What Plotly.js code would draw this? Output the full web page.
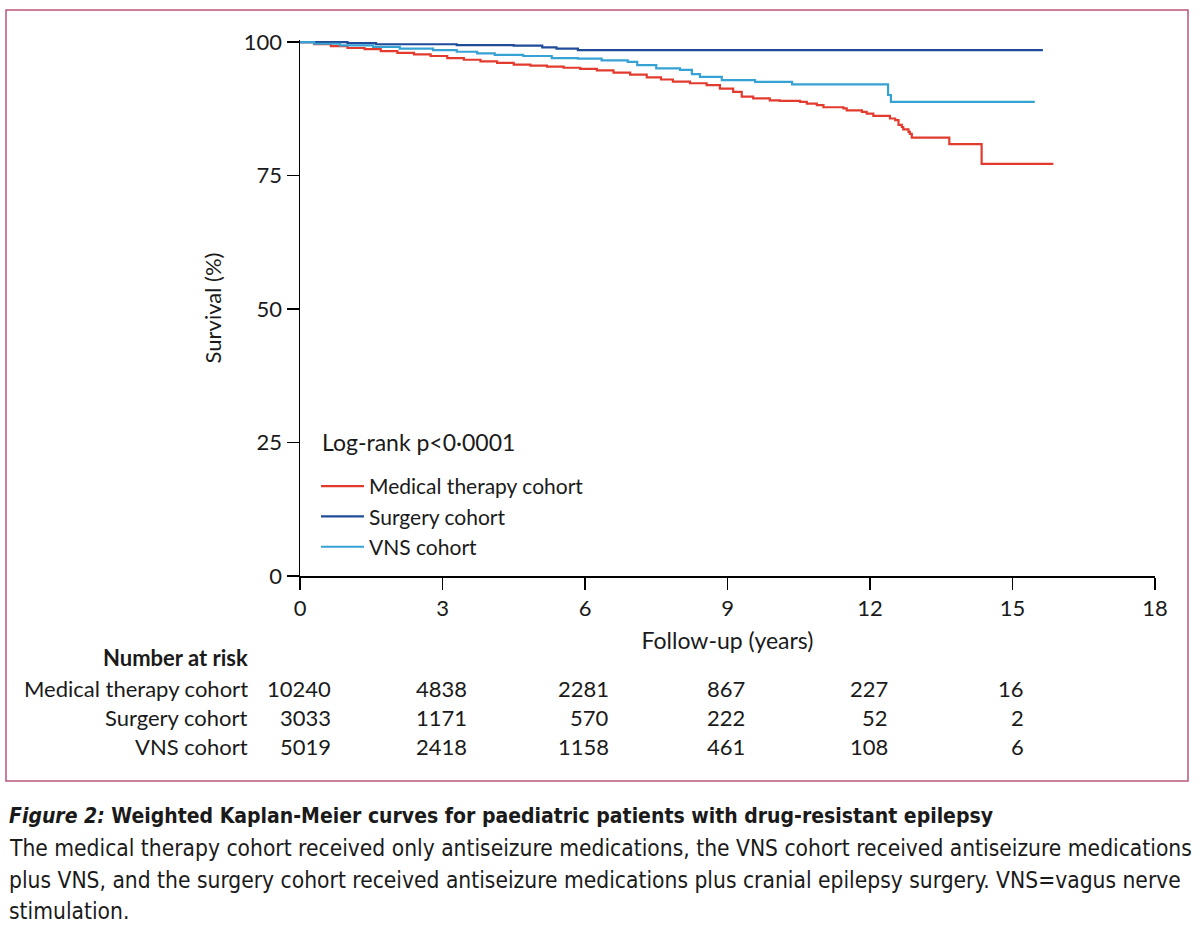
<!DOCTYPE html>
<html>
<head>
<meta charset="utf-8">
<script src="https://cdn.plot.ly/plotly-3.0.1.min.js"></script>
<style>html,body{margin:0;padding:0;background:#fff;}#chart{width:1200px;height:936px;}</style>
</head>
<body>
<div id="chart"></div>
<script>
// ---- Data ----
const medTime = [0, 0.3, 0.65, 1.0, 1.36, 1.7, 2.05, 2.4, 2.75, 3.1, 3.45, 3.8, 4.15, 4.5, 4.85, 5.2, 5.55, 5.9, 6.25, 6.6, 6.95, 7.3, 7.6, 7.85, 8.21, 8.56, 8.84, 9.12, 9.3, 9.54, 9.89, 10.1, 10.53, 10.67, 10.88, 11.02, 11.44, 11.51, 11.83, 11.93, 12.07, 12.42, 12.53, 12.6, 12.67, 12.7, 12.81, 12.84, 12.88, 13.67, 14.35, 15.86];
const medSurv = [100, 99.6, 99.25, 98.9, 98.7, 98.3, 98.0, 97.7, 97.4, 97.0, 96.7, 96.4, 96.1, 95.8, 95.6, 95.4, 95.2, 95.0, 94.7, 94.3, 93.9, 93.4, 93.0, 92.6, 92.3, 91.95, 91.3, 90.7, 89.8, 89.45, 89.1, 89.0, 88.8, 88.5, 88.2, 87.8, 87.6, 87.2, 86.95, 86.6, 86.2, 85.7, 85.4, 84.5, 84.1, 83.65, 83.2, 82.8, 82.1, 80.9, 77.2, 77.2];

const surgTime = [0, 1.0, 1.6, 3.3, 4.5, 5.1, 5.4, 5.85, 15.64];
const surgSurv = [100, 99.8, 99.6, 99.45, 99.35, 99.0, 98.8, 98.5, 98.5];

const vnsTime = [0, 0.3, 0.84, 1.54, 2.1, 2.8, 3.3, 3.73, 4.1, 4.7, 5.3, 5.85, 6.35, 6.9, 7.1, 7.5, 8.0, 8.25, 8.42, 8.88, 9.58, 10.36, 12.38, 12.44, 15.47];
const vnsSurv = [100, 99.7, 99.4, 99.1, 98.8, 98.5, 98.2, 97.9, 97.6, 97.4, 97.0, 96.9, 96.6, 96.3, 95.7, 95.1, 94.8, 94.0, 93.5, 92.9, 92.57, 92.1, 90.1, 88.8, 88.8];

const seriesNames = ["Medical therapy cohort", "Surgery cohort", "VNS cohort"];
const riskTimes = [0, 3, 6, 9, 12, 15];
const riskMed  = [10240, 4838, 2281, 867, 227, 16];
const riskSurg = [3033, 1171, 570, 222, 52, 2];
const riskVns  = [5019, 2418, 1158, 461, 108, 6];
const xTicks = [0, 3, 6, 9, 12, 15, 18];
const yTicks = [0, 25, 50, 75, 100];

// ---- Styling / layout ----
const W = 1200, H = 936;
const L = 300, R = 45, T = 40, B = 360;
const PW = W - L - R, PH = H - T - B;
const px = v => (v - L) / PW;          // page x px -> paper
const py = v => (T + PH - v) / PH;     // page y px -> paper
const FONT = "Lato, 'Open Sans', sans-serif";
const TXT = "#1a1a1a";
const FS = 22;
const colors = ["#e23b2e", "#1f4b98", "#36a2d4"];

const traces = [
  {x: medTime, y: medSurv, name: seriesNames[0], color: colors[0]},
  {x: surgTime, y: surgSurv, name: seriesNames[1], color: colors[1]},
  {x: vnsTime, y: vnsSurv, name: seriesNames[2], color: colors[2]}
].map(s => ({
  type: "scatter", mode: "lines", x: s.x, y: s.y, name: s.name,
  line: {shape: "hv", color: s.color, width: 2.2}, hoverinfo: "skip"
}));

const annotations = [];
// Number at risk table
annotations.push({xref: "paper", yref: "paper", x: px(250), y: py(657), xanchor: "right", yanchor: "middle",
  text: "<b>Number at risk</b>", showarrow: false, font: {family: FONT, size: FS, color: TXT}});
const rows = [[seriesNames[0], riskMed, 688], [seriesNames[1], riskSurg, 717], [seriesNames[2], riskVns, 746]];
rows.forEach(([label, vals, yy]) => {
  annotations.push({xref: "paper", yref: "paper", x: px(250), y: py(yy), xanchor: "right", yanchor: "middle",
    text: label, showarrow: false, font: {family: FONT, size: FS, color: TXT}});
});
riskTimes.forEach((t, i) => {
  const maxLen = Math.max(String(riskMed[i]).length, String(riskSurg[i]).length, String(riskVns[i]).length);
  const shift = maxLen * 6.6;
  rows.forEach(([label, vals, yy]) => {
    annotations.push({xref: "x", yref: "paper", x: t, y: py(yy), xanchor: "right", yanchor: "middle", xshift: shift,
      text: String(vals[i]), showarrow: false, font: {family: FONT, size: FS, color: TXT}});
  });
});
// Log-rank
annotations.push({xref: "paper", yref: "paper", x: px(320), y: py(442), xanchor: "left", yanchor: "middle",
  text: "Log-rank p<0·0001", showarrow: false, font: {family: FONT, size: 23, color: TXT}});
// Caption
const capFamily = "'Liberation Sans Narrow', 'DejaVu Sans Condensed', Lato, sans-serif";
const capFont = {family: capFamily, size: 22.6, color: TXT};
annotations.push({xref: "paper", yref: "paper", x: px(7), y: py(816), xanchor: "left", yanchor: "middle",
  text: "<b><i>Figure 2:</i> Weighted Kaplan-Meier curves for paediatric patients with drug-resistant epilepsy</b>",
  showarrow: false, font: {family: capFamily, size: 21, color: TXT}});
const capLines = [
  ["The medical therapy cohort received only antiseizure medications, the VNS cohort received antiseizure medications", 848],
  ["plus VNS, and the surgery cohort received antiseizure medications plus cranial epilepsy surgery. VNS=vagus nerve", 880],
  ["stimulation.", 911]
];
capLines.forEach(([txt, yy]) => annotations.push({xref: "paper", yref: "paper", x: px(7), y: py(yy), xanchor: "left", yanchor: "middle",
  text: txt, showarrow: false, font: capFont}));

const layout = {
  width: W, height: H, autosize: false,
  margin: {l: L, r: R, t: T, b: B, pad: 0},
  paper_bgcolor: "#fff", plot_bgcolor: "#fff",
  font: {family: FONT, size: FS, color: TXT},
  showlegend: true,
  legend: {x: px(316), y: py(466), xanchor: "left", yanchor: "top", bgcolor: "rgba(0,0,0,0)",
    font: {family: FONT, size: 21, color: TXT}, tracegroupgap: 0, itemwidth: 43},
  xaxis: {range: [0, 18], tickvals: xTicks, ticktext: xTicks.map(String), showgrid: false, zeroline: false,
    showline: true, linecolor: "#000", linewidth: 1.5, ticks: "outside", ticklen: 12, tickwidth: 1.5, tickcolor: "#000",
    tickfont: {family: FONT, size: FS, color: TXT},
    title: {text: "Follow-up (years)", font: {family: FONT, size: 23, color: TXT}, standoff: 13}},
  yaxis: {range: [0, 100.4], tickvals: yTicks, ticktext: yTicks.map(String), showgrid: false, zeroline: false,
    showline: true, linecolor: "#000", linewidth: 1.5, ticks: "outside", ticklen: 12, tickwidth: 1.5, tickcolor: "#000",
    tickfont: {family: FONT, size: FS, color: TXT},
    title: {text: "Survival (%)", font: {family: FONT, size: 22, color: TXT}, standoff: 16}},
  shapes: [{type: "rect", xref: "paper", yref: "paper", x0: px(6), x1: px(1188), y0: py(10), y1: py(781),
    line: {color: "#b9557c", width: 1.5}, fillcolor: "rgba(0,0,0,0)", layer: "below"}],
  annotations: annotations
};

Plotly.newPlot("chart", traces, layout, {displayModeBar: false, staticPlot: true});
</script>
</body>
</html>
